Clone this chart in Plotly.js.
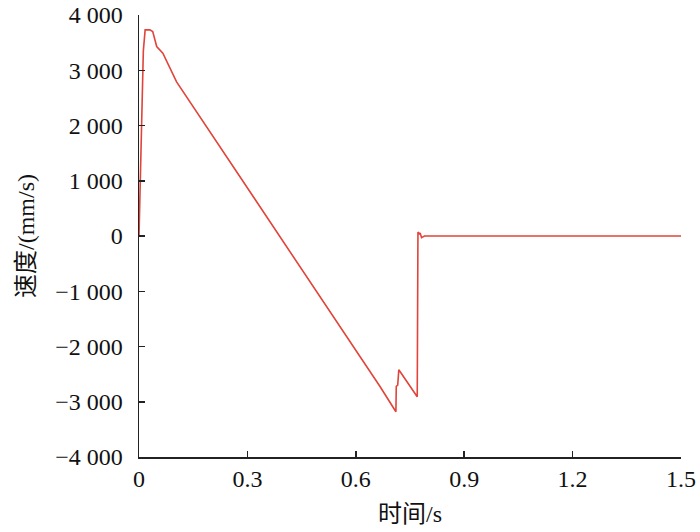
<!DOCTYPE html>
<html><head><meta charset="utf-8">
<script src="https://cdn.plot.ly/plotly-3.0.1.min.js"></script>
<style>body{margin:0;background:#fff}#c{width:700px;height:532px}</style>
</head><body><div id="c"></div>
<script>
const timeS = [0, 0.004, 0.008, 0.012, 0.017, 0.030, 0.038, 0.044, 0.049, 0.066, 0.090, 0.104,
  0.667, 0.711, 0.712, 0.716, 0.719, 0.770, 0.772, 0.776, 0.778, 0.782, 0.790, 0.85, 1.0, 1.2, 1.5];
const speed = [0, 1100, 2300, 3350, 3730, 3730, 3700, 3550, 3430, 3310, 2970, 2790,
  -2725, -3180, -2720, -2700, -2420, -2910, 70, 40, 55, -30, 0, 0, 0, 0, 0];
const xTicks = [0, 0.3, 0.6, 0.9, 1.2, 1.5];
const yTicks = [-4000, -3000, -2000, -1000, 0, 1000, 2000, 3000, 4000];

const fnt = {family: '"Liberation Serif","Times New Roman","Noto Sans CJK SC",serif', size: 24, color: '#111'};
Plotly.newPlot('c', [{
  x: timeS, y: speed, type: 'scatter', mode: 'lines',
  line: {color: '#e0443a', width: 1.6}
}], {
  width: 700, height: 532,
  margin: {l: 139, r: 19, t: 15, b: 75},
  paper_bgcolor: '#fff', plot_bgcolor: '#fff',
  separators: '. ',
  showlegend: false,
  font: fnt,
  xaxis: {
    range: [0, 1.5], tickvals: xTicks, tickformat: '.1~f',
    showgrid: false, zeroline: false, showline: true, linecolor: '#222', linewidth: 1.5,
    ticks: 'inside', ticklen: 6, tickcolor: '#222', tickwidth: 1.5,
    tickfont: fnt,
    title: {text: '时间/s', font: fnt, standoff: 14}
  },
  yaxis: {
    range: [-4000, 4000], tickvals: yTicks, tickformat: ',d',
    showgrid: false, zeroline: false, showline: true, linecolor: '#222', linewidth: 1.5,
    ticks: 'inside', ticklen: 6, tickcolor: '#222', tickwidth: 1.5,
    tickfont: fnt, ticklabelstandoff: 10,
    title: {text: '速度/(mm/s)', font: fnt, standoff: 14}
  }
}, {displayModeBar: false, staticPlot: true});
</script></body></html>
